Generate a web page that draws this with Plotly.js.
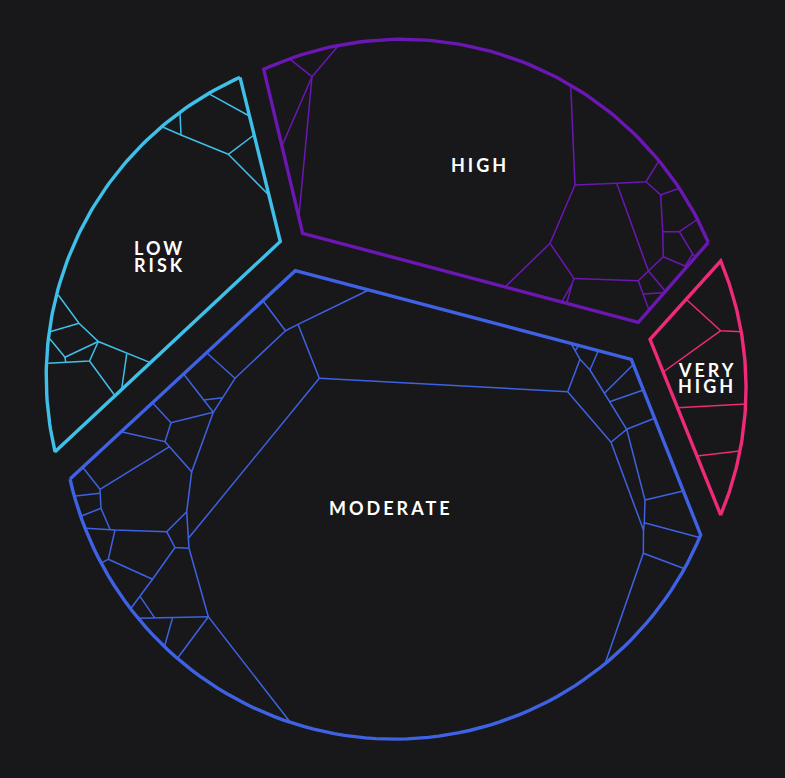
<!DOCTYPE html>
<html><head><meta charset="utf-8">
<script src="https://cdn.plot.ly/plotly-3.0.1.min.js"></script>
<style>
html,body{margin:0;padding:0;background:#18181a;}
#chart{width:785px;height:778px;}
.annotation-text{letter-spacing:3px;}
</style></head><body><div id="chart"></div>
<script>
// ---------- data (pixel space) ----------
const groupNames = ['LOW RISK', 'HIGH', 'VERY HIGH', 'MODERATE'];
const labelLines = [['LOW', 'RISK'], ['HIGH'], ['VERY', 'HIGH'], ['MODERATE']];
const labelX = [159, 480, 707, 391];
const labelY = [[248, 264.5], [165.3], [370.3, 386.3], [508]];

// group outlines: straight vertices; the closing side (last -> first) is an arc
const lowRiskOutline = [[240, 77.3], [280.3, 241.5], [55, 451.7]];
const highOutline = [[708.3, 242.3], [638.3, 322.3], [302.7, 233.3], [263.7, 69.3]];
const veryHighOutline = [[720.7, 515], [650, 339.3], [720.7, 261]];
const moderateOutline = [[70, 479], [295.3, 270.7], [631.3, 359.3], [700.7, 535]];
const arcCenters = [[374, 376], [402, 372], [415, 388], [395, 407]];

// internal cell borders (polylines)
const lowRiskEdges = [
  [[210, 94.3], [249.3, 116]],
  [[180, 113.3], [181, 135]],
  [[163.3, 127.3], [181, 135], [228.3, 154.3]],
  [[228.3, 154.3], [254, 135]],
  [[228.3, 154.3], [268.8, 195]],
  [[58.3, 295], [79, 323.3], [98.3, 341.5], [150.4, 362.6]],
  [[50, 331.7], [79, 323.3]],
  [[50, 339], [65, 357.3], [98.3, 341.5]],
  [[65, 357.3], [65.7, 362]],
  [[48.3, 363.3], [89.5, 361], [98.3, 341.5]],
  [[89.5, 361], [115, 395.7]],
  [[126.7, 354], [121.6, 389.5]]
];
const highEdges = [
  [[290.3, 59.3], [312, 76.7], [338, 46]],
  [[312, 76.7], [282, 145.7]],
  [[312, 76.7], [298.9, 216.7]],
  [[570.7, 85], [575, 185], [616.7, 183.3], [646, 181.7], [658.5, 161.7]],
  [[646, 181.7], [660.7, 195], [678.8, 188.5]],
  [[660.7, 195], [662.7, 231.7], [663.3, 256.7]],
  [[662.7, 231.7], [679.3, 231.7], [696.5, 220]],
  [[679.3, 231.7], [692.7, 254], [695.7, 256.7]],
  [[663.3, 256.7], [685, 266], [692.7, 254]],
  [[685, 266], [687.3, 267.3]],
  [[663.3, 256.7], [648.3, 270.7], [638.3, 280.7], [574, 278.5]],
  [[648.3, 270.7], [665.7, 291.7]],
  [[616.7, 183.3], [648.3, 270.7]],
  [[638.3, 280.7], [649, 310]],
  [[643.2, 294], [664.1, 292.7]],
  [[575, 185], [550, 243.3], [505, 287]],
  [[550, 243.3], [574, 278.5], [572.3, 283.3], [561.7, 302]],
  [[572.3, 283.3], [566.7, 303.3]]
];
const veryHighEdges = [
  [[686.1, 299.3], [720.7, 330.7], [741.8, 331.7]],
  [[720.7, 330.7], [663.2, 372]],
  [[677.5, 407.7], [745.7, 404]],
  [[697, 456], [739.5, 451]]
];
const moderateEdges = [
  [[262.9, 300.7], [285.5, 330.7], [298, 324.3], [368.7, 290]],
  [[298, 324.3], [319.3, 378.3]],
  [[319.3, 378.3], [567.7, 391.7]],
  [[319.3, 378.3], [188.4, 538.3]],
  [[285.5, 330.7], [235, 378.3]],
  [[206.6, 352.7], [235, 378.3], [213.3, 412.3]],
  [[183.6, 374], [213.3, 412.3]],
  [[203.8, 400], [222.6, 397.7]],
  [[213.3, 412.3], [171, 422.7], [152.5, 402.7]],
  [[171, 422.7], [165, 441.7], [121.2, 431.7]],
  [[165, 441.7], [191.7, 471.7], [213.3, 412.3]],
  [[191.7, 471.7], [186.7, 511.7], [189, 548.3]],
  [[169.5, 446.7], [100, 489.3]],
  [[100, 489.3], [82.7, 467.3]],
  [[100, 489.3], [101, 508.3], [110, 529.3]],
  [[100, 493.3], [75.5, 496]],
  [[101, 508.3], [81.4, 516]],
  [[86, 528.3], [115, 530], [166.7, 531.7], [186.7, 511.7]],
  [[166.7, 531.7], [175, 547.5], [189, 548.3]],
  [[189, 548.3], [208.3, 616.7], [290.3, 722.3]],
  [[115, 530], [108.3, 559.3], [101.8, 562.7]],
  [[108.3, 559.3], [152.5, 579.3]],
  [[175, 547.5], [152.5, 579.3], [131, 608.3]],
  [[140.2, 596.7], [154.7, 617.8]],
  [[139, 618.3], [208.3, 616.7]],
  [[172.5, 618], [164.6, 646]],
  [[208.3, 616.7], [177.7, 658]],
  [[567.7, 391.7], [580, 359.3], [571, 343.4]],
  [[575, 351], [578.7, 345.4]],
  [[580, 359.3], [590, 370], [598.3, 350.7]],
  [[590, 370], [626.7, 429.3], [611, 442.3], [567.7, 391.7]],
  [[604.4, 393.3], [633.4, 364.5]],
  [[609.6, 401.7], [643.4, 390]],
  [[626.7, 429.3], [654.6, 418.3]],
  [[626.7, 429.3], [645, 500], [644.3, 522.7], [643.5, 530], [643.3, 553.3], [605.7, 661.7]],
  [[611, 442.3], [643.5, 530]],
  [[645, 500], [683.3, 491]],
  [[644.3, 522.7], [699.5, 537.5]],
  [[643.3, 553.3], [683.3, 568.3]]
];

// ---------- styles ----------
const colors = ['#3fc0e8', '#6b17b3', '#ef2a78', '#3f61e3'];
const bg = '#18181a';

// ---------- build ----------
const outlines = [lowRiskOutline, highOutline, veryHighOutline, moderateOutline];
const edgeSets = [lowRiskEdges, highEdges, veryHighEdges, moderateEdges];

function arcPoints(p0, p1, c, n) {
  const a0 = Math.atan2(p0[1] - c[1], p0[0] - c[0]);
  const a1 = Math.atan2(p1[1] - c[1], p1[0] - c[0]);
  let d = a1 - a0;
  while (d > Math.PI) d -= 2 * Math.PI;
  while (d <= -Math.PI) d += 2 * Math.PI;
  const r0 = Math.hypot(p0[0] - c[0], p0[1] - c[1]);
  const r1 = Math.hypot(p1[0] - c[0], p1[1] - c[1]);
  const pts = [];
  for (let i = 0; i <= n; i++) {
    const t = i / n, a = a0 + d * t, r = r0 + (r1 - r0) * t;
    pts.push([c[0] + r * Math.cos(a), c[1] + r * Math.sin(a)]);
  }
  return pts;
}

const traces = [];
outlines.forEach((ol, g) => {
  const ex = [], ey = [];
  edgeSets[g].forEach(pl => { pl.forEach(p => { ex.push(p[0]); ey.push(p[1]); }); ex.push(null); ey.push(null); });
  traces.push({type: 'scatter', mode: 'lines', x: ex, y: ey, hoverinfo: 'skip', showlegend: false,
    line: {color: colors[g], width: 1.5}});
  const arc = arcPoints(ol[ol.length - 1], ol[0], arcCenters[g], 80);
  const all = ol.slice().concat(arc.slice(1));
  traces.push({type: 'scatter', mode: 'lines', name: groupNames[g],
    x: all.map(p => p[0]), y: all.map(p => p[1]), hoverinfo: 'skip', showlegend: false,
    line: {color: colors[g], width: 3.4}});
});

const annotations = [];
labelLines.forEach((lines, g) => {
  lines.forEach((t, i) => {
    annotations.push({x: labelX[g], y: labelY[g][i], xref: 'x', yref: 'y', text: t, showarrow: false,
      xanchor: 'center', yanchor: 'middle', borderpad: 0,
      font: {family: 'Lato, "Open Sans", sans-serif', size: 18, color: '#ffffff', weight: 'bold'}});
  });
});

const layout = {
  width: 785, height: 778, margin: {l: 0, r: 0, t: 0, b: 0},
  paper_bgcolor: bg, plot_bgcolor: bg, showlegend: false,
  xaxis: {range: [0, 785], visible: false, fixedrange: true},
  yaxis: {range: [778, 0], visible: false, fixedrange: true},
  annotations: annotations
};
Plotly.newPlot('chart', traces, layout, {displayModeBar: false, staticPlot: true});
</script></body></html>
